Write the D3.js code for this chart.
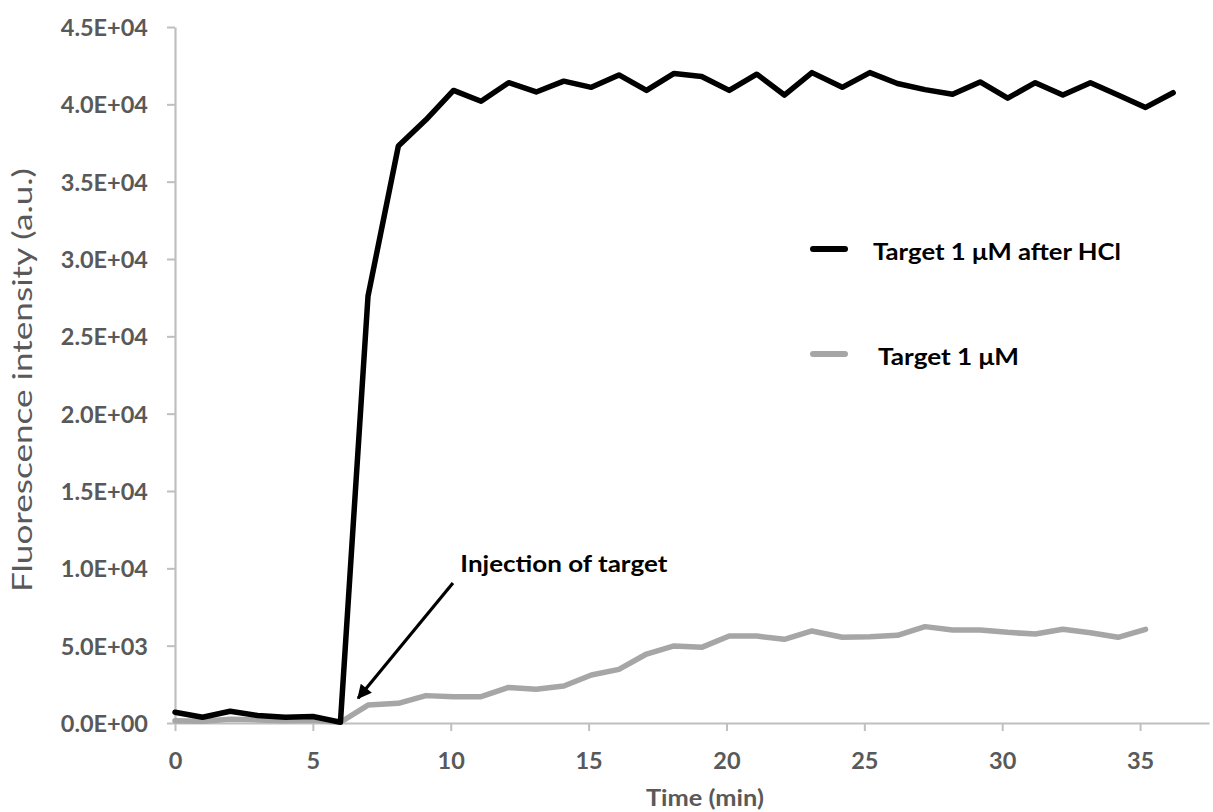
<!DOCTYPE html>
<html>
<head>
<meta charset="utf-8">
<script src="https://cdn.jsdelivr.net/npm/d3@7"></script>
<style>
  body { margin: 0; background: #fff; }
  svg { display: block; }
</style>
</head>
<body>
<div id="chart"></div>
<script>
// time points (min)
const timeMin = [0, 1.0, 2.0, 3.0, 4.0, 5.0, 6.0, 7.0, 8.1, 9.1, 10.1, 11.1, 12.1, 13.1, 14.1, 15.1,
  16.1, 17.1, 18.1, 19.1, 20.1, 21.1, 22.1, 23.1, 24.2, 25.2, 26.2, 27.2, 28.2, 29.2, 30.2,
  31.2, 32.2, 33.2, 34.2, 35.2, 36.2];

// fluorescence, Target 1 uM after HCl
const afterHCl = [700, 370, 760, 480, 370, 420, 50, 27600, 37300, 39000, 40900, 40200, 41400,
  40800, 41500, 41100, 41900, 40900, 42000, 41800, 40900, 41950, 40600, 42050, 41100, 42050,
  41350, 40950, 40650, 41450, 40400, 41400, 40600, 41400, 40600, 39800, 40750];

// fluorescence, Target 1 uM
const target1uM = [150, 120, 250, 200, 150, 180, 50, 1160, 1270, 1770, 1700, 1700, 2300, 2180,
  2390, 3100, 3470, 4460, 4980, 4890, 5620, 5620, 5410, 5950, 5540, 5580, 5670, 6230, 6010,
  6010, 5860, 5750, 6060, 5840, 5540, 6060];

const xTicks = [0, 5, 10, 15, 20, 25, 30, 35];
const yTicks = [0, 5000, 10000, 15000, 20000, 25000, 30000, 35000, 40000, 45000];
const yTickLabels = ["0.0E+00", "5.0E+03", "1.0E+04", "1.5E+04", "2.0E+04", "2.5E+04",
  "3.0E+04", "3.5E+04", "4.0E+04", "4.5E+04"];

const seriesNames = ["Target 1 \u03bcM after HCl", "Target 1 \u03bcM"];

const width = 1213;
const height = 812;
const margin = { top: 27, right: 4, bottom: 89, left: 175 };
const axisColor = "#bfbfbf";
const labelColor = "#595959";
const font = "Lato, 'Open Sans', sans-serif";

const svg = d3.select("#chart")
  .append("svg")
  .attr("width", width)
  .attr("height", height);

const x = d3.scaleLinear().domain([0, 37.5]).range([margin.left, width - margin.right]);
const y = d3.scaleLinear().domain([0, 45000]).range([height - margin.bottom, margin.top]);

// y axis
const yAxis = svg.append("g")
  .attr("transform", `translate(${margin.left},0)`)
  .call(d3.axisLeft(y).tickValues(yTicks).tickSize(8).tickSizeOuter(0)
    .tickFormat((d, i) => yTickLabels[i]));
yAxis.select(".domain").attr("stroke", axisColor).attr("stroke-width", 2.2);
yAxis.selectAll(".tick line").attr("stroke", axisColor).attr("stroke-width", 2);
yAxis.selectAll(".tick text")
  .attr("x", -27)
  .attr("dy", "0.36em")
  .attr("fill", labelColor)
  .style("font-family", font)
  .style("font-weight", "bold")
  .style("font-size", "23.5px");

// x axis
const xAxis = svg.append("g")
  .attr("transform", `translate(0,${y(0)})`)
  .call(d3.axisBottom(x).tickValues(xTicks).tickSize(8).tickSizeOuter(0));
xAxis.select(".domain").attr("stroke", axisColor).attr("stroke-width", 2.2);
xAxis.selectAll(".tick line").attr("stroke", axisColor).attr("stroke-width", 2);
xAxis.selectAll(".tick text")
  .attr("y", 29)
  .attr("dy", "0.71em")
  .attr("fill", labelColor)
  .style("font-family", font)
  .style("font-weight", "bold")
  .style("font-size", "23.5px");

// axis titles
svg.append("text")
  .attr("x", (x(17) + x(21)) / 2 + 6)
  .attr("y", 806)
  .attr("text-anchor", "middle")
  .attr("fill", labelColor)
  .attr("textLength", 118)
  .attr("lengthAdjust", "spacingAndGlyphs")
  .style("font-family", font)
  .style("font-weight", "bold")
  .style("font-size", "23px")
  .text("Time (min)");

svg.append("text")
  .attr("transform", `translate(32,${380}) rotate(-90)`)
  .attr("text-anchor", "middle")
  .attr("fill", labelColor)
  .attr("textLength", 424)
  .attr("lengthAdjust", "spacingAndGlyphs")
  .style("font-family", font)
  .style("font-size", "26px")
  .text("Fluorescence intensity (a.u.)");

// lines
const lineGen = d3.line()
  .x((d) => x(d[0]))
  .y((d) => y(d[1]));

svg.append("path")
  .datum(target1uM.map((v, i) => [timeMin[i], v]))
  .attr("fill", "none")
  .attr("stroke", "#a6a6a6")
  .attr("stroke-width", 5.5)
  .attr("stroke-linejoin", "round")
  .attr("stroke-linecap", "round")
  .attr("d", lineGen);

svg.append("path")
  .datum(afterHCl.map((v, i) => [timeMin[i], v]))
  .attr("fill", "none")
  .attr("stroke", "#000")
  .attr("stroke-width", 5.5)
  .attr("stroke-linejoin", "round")
  .attr("stroke-linecap", "round")
  .attr("d", lineGen);

// annotation arrow
svg.append("defs")
  .append("marker")
  .attr("id", "arrow")
  .attr("viewBox", "0 0 10 10")
  .attr("refX", 9)
  .attr("refY", 5)
  .attr("markerWidth", 5)
  .attr("markerHeight", 4.5)
  .attr("orient", "auto")
  .attr("markerUnits", "strokeWidth")
  .append("path")
  .attr("d", "M0,0 L10,5 L0,10 z")
  .attr("fill", "#000");

svg.append("line")
  .attr("x1", x(10.08))
  .attr("y1", y(9050))
  .attr("x2", x(6.64))
  .attr("y2", y(1600))
  .attr("stroke", "#000")
  .attr("stroke-width", 3.2)
  .attr("marker-end", "url(#arrow)");

svg.append("text")
  .attr("x", x(10.35))
  .attr("y", y(9760))
  .attr("textLength", 207)
  .attr("lengthAdjust", "spacingAndGlyphs")
  .style("font-family", font)
  .style("font-weight", "bold")
  .style("font-size", "23.5px")
  .text("Injection of target");

// legend
const legendItems = [
  { name: seriesNames[0], color: "#000", y: 249, textX: 873, textLen: 248 },
  { name: seriesNames[1], color: "#a6a6a6", y: 354, textX: 878, textLen: 141 }
];

const legend = svg.append("g")
  .selectAll("g")
  .data(legendItems)
  .enter()
  .append("g");

legend.append("line")
  .attr("x1", 813)
  .attr("x2", 845)
  .attr("y1", (d) => d.y)
  .attr("y2", (d) => d.y)
  .attr("stroke", (d) => d.color)
  .attr("stroke-width", 6)
  .attr("stroke-linecap", "round");

legend.append("text")
  .attr("x", (d) => d.textX)
  .attr("y", (d) => d.y + 11)
  .attr("textLength", (d) => d.textLen)
  .attr("lengthAdjust", "spacingAndGlyphs")
  .style("font-family", font)
  .style("font-weight", "bold")
  .style("font-size", "23.5px")
  .text((d) => d.name);
</script>
</body>
</html>
